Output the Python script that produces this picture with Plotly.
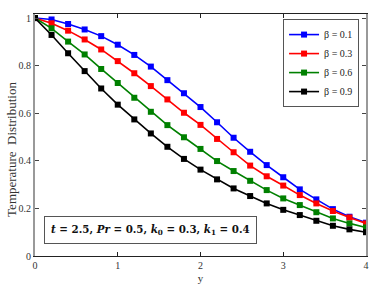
import plotly.graph_objects as go

y_pos = [0.0, 0.2, 0.4, 0.6, 0.8, 1.0, 1.2, 1.4, 1.6, 1.8, 2.0,
         2.2, 2.4, 2.6, 2.8, 3.0, 3.2, 3.4, 3.6, 3.8, 4.0]

theta_b01 = [1.000, 0.994, 0.975, 0.952, 0.924, 0.888, 0.845, 0.796, 0.739, 0.684, 0.626,
             0.562, 0.497, 0.438, 0.382, 0.331, 0.280, 0.238, 0.197, 0.165, 0.140]
theta_b03 = [1.000, 0.978, 0.947, 0.910, 0.868, 0.819, 0.768, 0.714, 0.658, 0.602, 0.551,
             0.492, 0.436, 0.380, 0.335, 0.296, 0.256, 0.221, 0.189, 0.162, 0.137]
theta_b06 = [1.000, 0.957, 0.901, 0.847, 0.786, 0.727, 0.665, 0.606, 0.550, 0.499, 0.450,
             0.399, 0.357, 0.316, 0.277, 0.242, 0.214, 0.184, 0.158, 0.137, 0.120]
theta_b09 = [1.000, 0.929, 0.852, 0.777, 0.704, 0.636, 0.574, 0.515, 0.459, 0.408, 0.363,
             0.322, 0.284, 0.252, 0.221, 0.194, 0.172, 0.148, 0.127, 0.112, 0.100]

series_names = ["β = 0.1", "β = 0.3", "β = 0.6", "β = 0.9"]
series_vals = [theta_b01, theta_b03, theta_b06, theta_b09]
series_colors = ["#0000ff", "#ff0000", "#008000", "#000000"]

x_ticks = [0, 1, 2, 3, 4]
y_tickvals = [0, 0.2, 0.4, 0.6, 0.8, 1.0]
y_ticktext = ["0", "0.2", "0.4", "0.6", "0.8", "1"]

serif = "Liberation Serif, Times New Roman, serif"

fig = go.Figure()
for name, vals, col in zip(series_names, series_vals, series_colors):
    fig.add_trace(go.Scatter(
        x=y_pos, y=vals, name=name, mode="lines+markers",
        line=dict(color=col, width=1.6),
        marker=dict(symbol="square", size=6, color=col),
    ))

fig.update_layout(
    width=384, height=289,
    margin=dict(l=35, r=18, t=14, b=33, autoexpand=False),
    paper_bgcolor="white", plot_bgcolor="white",
    showlegend=True,
    legend=dict(
        x=0.979, y=0.979, xanchor="right", yanchor="top",
        bgcolor="white", bordercolor="#555", borderwidth=1,
        font=dict(family=serif, size=10, color="#222"),
        tracegroupgap=0, itemwidth=30,
    ),
    font=dict(family=serif, size=10, color="#333"),
)

fig.update_xaxes(
    range=[0, 4], tickvals=x_ticks, ticktext=[str(t) for t in x_ticks],
    showline=True, linecolor="#222", linewidth=1, mirror="ticks",
    ticks="inside", ticklen=4, tickcolor="#222",
    showgrid=False, zeroline=False, automargin=False,
    tickfont=dict(family=serif, size=10, color="#333"),
    title=dict(text="y", font=dict(family=serif, size=11, color="#333"), standoff=4),
)
fig.update_yaxes(
    range=[0, 1.017], tickvals=y_tickvals, ticktext=y_ticktext,
    showline=True, linecolor="#999", linewidth=2, mirror="ticks",
    ticks="inside", ticklen=4, tickcolor="#444",
    showgrid=False, zeroline=False, automargin=False,
    tickfont=dict(family=serif, size=10, color="#333"),
)

fig.add_annotation(
    xref="paper", yref="paper", x=-0.1, y=0.44,
    text="Temperature  Distribution", textangle=-90,
    showarrow=False,
    font=dict(family=serif, size=13, color="#333"),
)

fig.add_annotation(
    xref="x", yref="y", x=1.4, y=0.109,
    text="<b><i>t</i> = 2.5, <i>Pr</i> = 0.5, <i>k</i><sub>0</sub> = 0.3, <i>k</i><sub>1</sub> = 0.4</b>",
    showarrow=False, bgcolor="white", bordercolor="#555", borderwidth=1, borderpad=6,
    font=dict(family="DejaVu Serif, serif", size=10.3, color="#111"),
)

fig.write_html(
    "out.html",
    config={"displayModeBar": False},
    post_script="document.body.style.margin='0';document.body.style.overflow='hidden';",
)
